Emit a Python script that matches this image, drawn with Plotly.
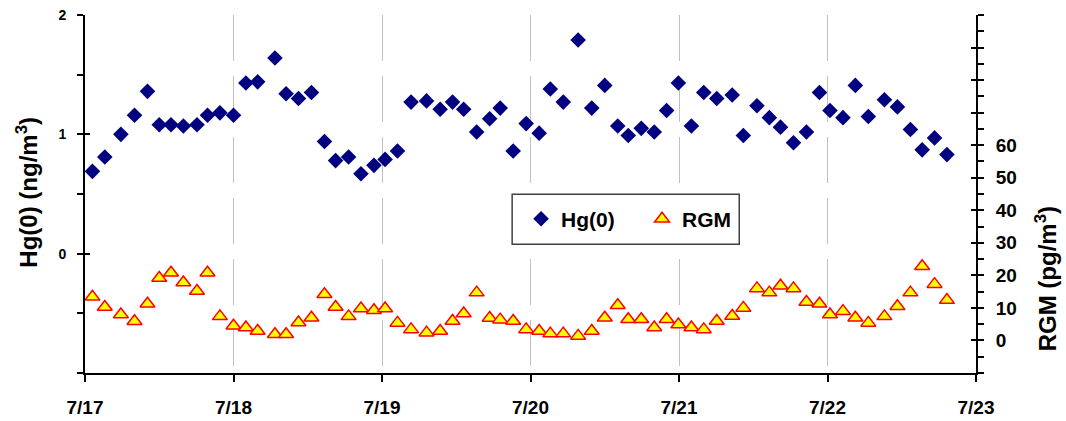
import plotly.graph_objects as go

# Sampling times, hours after 7/17 00:00
hours = [1.2, 3.2, 5.8, 8.0, 10.1, 12.0, 13.9, 15.9, 18.1, 19.8, 21.8, 24.0,
         26.0, 27.9, 30.7, 32.5, 34.5, 36.6, 38.7, 40.5, 42.6, 44.6, 46.7, 48.5,
         50.5, 52.7, 55.2, 57.4, 59.4, 61.2, 63.3, 65.4, 67.1, 69.2, 71.3, 73.4,
         75.2, 77.3, 79.7, 81.9, 84.0, 86.1, 87.8, 89.9, 92.0, 94.0, 95.9, 98.0,
         100.0, 102.1, 104.6, 106.4, 108.6, 110.6, 112.4, 114.5, 116.6, 118.7, 120.4, 122.5,
         124.5, 126.6, 129.2, 131.3, 133.4, 135.3, 137.3, 139.3]

# Gaseous elemental mercury, ng/m3
hg0 = [0.69, 0.81, 1.00, 1.16, 1.36, 1.08, 1.08, 1.07, 1.08, 1.16, 1.18, 1.16,
       1.43, 1.44, 1.64, 1.34, 1.30, 1.35, 0.94, 0.78, 0.81, 0.67, 0.74, 0.79,
       0.86, 1.27, 1.28, 1.21, 1.27, 1.21, 1.02, 1.13, 1.22, 0.86, 1.09, 1.01,
       1.38, 1.27, 1.79, 1.22, 1.41, 1.07, 0.99, 1.05, 1.02, 1.20, 1.43, 1.07,
       1.35, 1.30, 1.33, 0.99, 1.24, 1.14, 1.06, 0.93, 1.02, 1.35, 1.20, 1.14,
       1.41, 1.15, 1.29, 1.23, 1.04, 0.87, 0.97, 0.83]

# Reactive gaseous mercury, pg/m3
rgm = [13.4, 10.3, 8.0, 5.9, 11.3, 19.2, 20.8, 17.8, 15.2, 20.8, 7.4, 4.5,
       4.0, 2.9, 1.9, 1.9, 5.5, 7.0, 14.2, 10.3, 7.4, 9.8, 9.3, 9.8,
       5.4, 3.4, 2.4, 2.9, 6.0, 8.3, 14.7, 6.9, 6.4, 6.0, 3.4, 2.9,
       2.1, 2.1, 1.4, 2.9, 7.0, 10.8, 6.5, 6.5, 4.0, 6.5, 4.9, 4.0,
       3.4, 6.0, 7.5, 10.0, 16.0, 14.7, 16.8, 16.0, 11.8, 11.3, 8.0, 9.0,
       7.0, 5.4, 7.4, 10.5, 14.7, 22.8, 17.3, 12.4]

day_labels = ["7/17", "7/18", "7/19", "7/20", "7/21", "7/22", "7/23"]
hg_labeled = [0, 1, 2]
hg_all_ticks = [-1, 0, 1, 2]
hg_unlabeled = [-1, -0.5, 0.5, 1.5]
rgm_labeled = list(range(0, 61, 10))
rgm_all_ticks = list(range(-10, 101, 10))
rgm_unlabeled = [v for v in range(-10, 101, 5) if v not in rgm_labeled]

days = [h / 24 for h in hours]

FONT = "Arial, 'Liberation Sans', sans-serif"


def bold(size):
    return dict(family=FONT, size=size, color="black", weight="bold")


fig = go.Figure()
fig.add_trace(go.Scatter(
    x=days, y=hg0, mode="markers", name="Hg(0)",
    marker=dict(symbol="diamond", size=12, color="#000080", line=dict(width=0)),
    yaxis="y"))
fig.add_trace(go.Scatter(
    x=days, y=rgm, mode="markers", name="RGM",
    marker=dict(symbol="triangle-up", size=13, color="#ffff00",
                line=dict(color="#ff0000", width=1.5)),
    yaxis="y2"))
# empty traces carrying the inner halves of the crossing tick marks
fig.add_trace(go.Scatter(x=[None], y=[None], yaxis="y3", showlegend=False, hoverinfo="skip"))
fig.add_trace(go.Scatter(x=[None], y=[None], yaxis="y4", showlegend=False, hoverinfo="skip"))

axis_common = dict(showline=True, linecolor="black", linewidth=2, zeroline=False,
                   tickcolor="black", tickwidth=2, automargin=False)
overlay_common = dict(ticks="inside", ticklen=5, tickwidth=2, tickcolor="black",
                      showticklabels=False, showgrid=False, zeroline=False,
                      showline=False, automargin=False)

fig.update_layout(
    width=1066, height=421,
    margin=dict(l=85, r=90, t=15, b=48),
    paper_bgcolor="white", plot_bgcolor="white",
    font=dict(family=FONT, color="black"),
    xaxis=dict(range=[0, 6], tickmode="array", tickvals=list(range(7)), ticktext=day_labels,
               ticks="outside", ticklen=7, tickfont=bold(19), ticklabelstandoff=9,
               showgrid=True, gridcolor="#c0c0c0", gridwidth=1, griddash="46px,15px",
               **axis_common),
    yaxis=dict(range=[-1, 2], tickmode="array", tickvals=hg_labeled,
               ticktext=[str(v) for v in hg_labeled],
               ticks="outside", ticklen=6, tickfont=bold(14), ticklabelstandoff=8,
               minor=dict(tickmode="array", tickvals=hg_unlabeled, ticks="outside",
                          ticklen=6, tickwidth=2, tickcolor="black", showgrid=False),
               showgrid=False, **axis_common),
    yaxis2=dict(range=[-10, 100], overlaying="y", side="right", tickmode="array",
                tickvals=rgm_labeled, ticktext=[str(v) for v in rgm_labeled],
                ticks="outside", ticklen=6, tickfont=bold(19), ticklabelstandoff=8,
                minor=dict(tickmode="array", tickvals=rgm_unlabeled,
                           ticks="outside", ticklen=6, tickwidth=2, tickcolor="black",
                           showgrid=False),
                showgrid=False, **axis_common),
    yaxis3=dict(range=[-1, 2], overlaying="y", side="left", tickmode="array",
                tickvals=hg_all_ticks, **overlay_common),
    yaxis4=dict(range=[-10, 100], overlaying="y", side="right", tickmode="array",
                tickvals=rgm_all_ticks, **overlay_common),
    legend=dict(orientation="h", x=0.4794 + 0.010, xanchor="left", y=0.4297, yanchor="middle",
                bgcolor="rgba(0,0,0,0)", borderwidth=0, font=bold(21),
                entrywidth=76, entrywidthmode="pixels", itemclick=False),
    showlegend=True,
    shapes=[dict(type="rect", xref="paper", yref="paper",
                 x0=0.4794, x1=0.7343, y0=0.3598, y1=0.4996,
                 fillcolor="white", line=dict(color="#404040", width=1.5), layer="above")],
    annotations=[
        dict(text="Hg(0) (ng/m<sup>3</sup>)", textangle=-90, xref="paper", yref="paper",
             x=-0.0651, y=0.5066, xanchor="center", yanchor="middle", showarrow=False,
             font=bold(24)),
        dict(text="RGM (pg/m<sup>3</sup>)", textangle=-90, xref="paper", yref="paper",
             x=1.078, y=0.263, xanchor="center", yanchor="middle", showarrow=False,
             font=bold(24)),
    ],
)

fig.write_html("out.html")
